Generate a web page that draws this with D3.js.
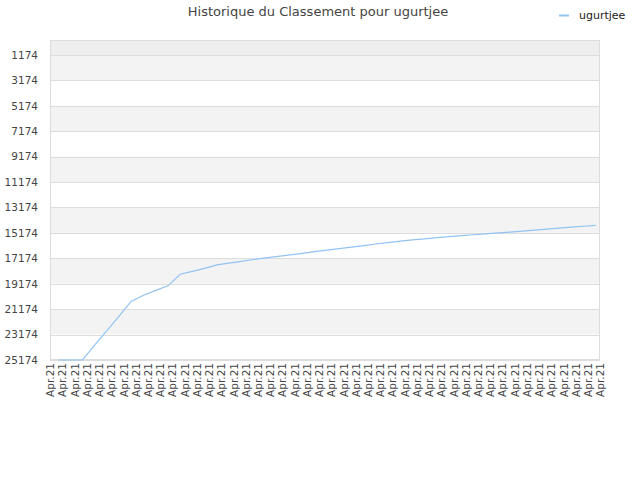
<!DOCTYPE html>
<html>
<head>
<meta charset="utf-8">
<script src="https://cdn.jsdelivr.net/npm/d3@7/dist/d3.min.js"></script>
<style>
body{margin:0;background:#fff;}
svg{display:block;font-family:"DejaVu Sans",sans-serif;}
</style>
</head>
<body>
<svg id="c" width="640" height="480"></svg>
<script>
const title = "Historique du Classement pour ugurtjee";
const seriesName = "ugurtjee";
const xLabels = Array.from({length:46}, () => "Apr.21");
const yTicks = [1174,3174,5174,7174,9174,11174,13174,15174,17174,19174,21174,23174,25174];
const rankValues = [25174,25174,25174,24000,22870,21730,20550,20080,19700,19340,
  18430,18200,17960,17690,17550,17410,17270,17140,17020,16900,
  16780,16650,16530,16410,16290,16170,16050,15940,15820,15730,
  15640,15550,15470,15390,15320,15250,15180,15120,15040,14960,
  14880,14800,14720,14650,14580];

const W=640,H=480;
const m={l:50,r:40,t:40,b:120};
const svg=d3.select("#c");
const x=d3.scaleLinear().domain([0,xLabels.length-1]).range([m.l,W-m.r]);
const y=d3.scaleLinear().domain([0,25174]).range([m.t,H-m.b]);
const dataOffset=0.655;

// bands
const bandEdges=[0].concat(yTicks);
for(let k=0;k<bandEdges.length-1;k++){
  let fill;
  if(k===0) fill="#eeeeee"; else fill=(k%2===1)?"#f3f3f3":"#ffffff";
  svg.append("rect").attr("x",m.l).attr("width",W-m.r-m.l)
    .attr("y",y(bandEdges[k])).attr("height",y(bandEdges[k+1])-y(bandEdges[k]))
    .attr("fill",fill);
}
// grid
svg.append("g").selectAll("line").data(yTicks).join("line")
  .attr("x1",m.l).attr("x2",W-m.r)
  .attr("y1",d=>Math.round(y(d))+0.5).attr("y2",d=>Math.round(y(d))+0.5)
  .attr("stroke","#dddddd").attr("stroke-width",1);
// border
svg.append("rect").attr("x",m.l+0.5).attr("y",m.t+0.5)
  .attr("width",W-m.r-m.l-1).attr("height",H-m.b-m.t-1)
  .attr("fill","none").attr("stroke","#dddddd");

// y axis labels
const yAxis=d3.axisLeft(y).tickValues(yTicks).tickFormat(d3.format("d")).tickSize(0).tickPadding(12);
const gy=svg.append("g").attr("transform",`translate(${m.l},0)`).call(yAxis);
gy.select(".domain").remove();
gy.selectAll("text").attr("font-size",10.5).attr("fill","#444").attr("font-family","DejaVu Sans, sans-serif");

// x axis labels
const xAxis=d3.axisBottom(x).tickValues(d3.range(xLabels.length)).tickFormat(i=>xLabels[i]).tickSize(0);
const gx=svg.append("g").attr("transform",`translate(0,${H-m.b})`).call(xAxis);
gx.select(".domain").remove();
gx.selectAll("text").attr("font-size",10.5).attr("fill","#444").attr("font-family","DejaVu Sans, sans-serif")
  .attr("text-anchor","end").attr("transform","rotate(-90)")
  .attr("x",-3).attr("y",0).attr("dy","0.35em");

// line
const line=d3.line().x((d,i)=>x(i+dataOffset)).y(d=>y(d));
svg.append("path").datum(rankValues).attr("d",line)
  .attr("fill","none").attr("stroke","#92c3f3").attr("stroke-width",1.2);

// title
svg.append("text").attr("x",318).attr("y",16).attr("text-anchor","middle")
  .attr("font-size",13).attr("fill","#444").text(title);

// legend
svg.append("line").attr("x1",559).attr("x2",569).attr("y1",15.5).attr("y2",15.5)
  .attr("stroke","#92c3f3").attr("stroke-width",2);
svg.append("text").attr("x",579).attr("y",19).attr("font-size",11).attr("fill","#222").text(seriesName);
</script>
</body>
</html>
